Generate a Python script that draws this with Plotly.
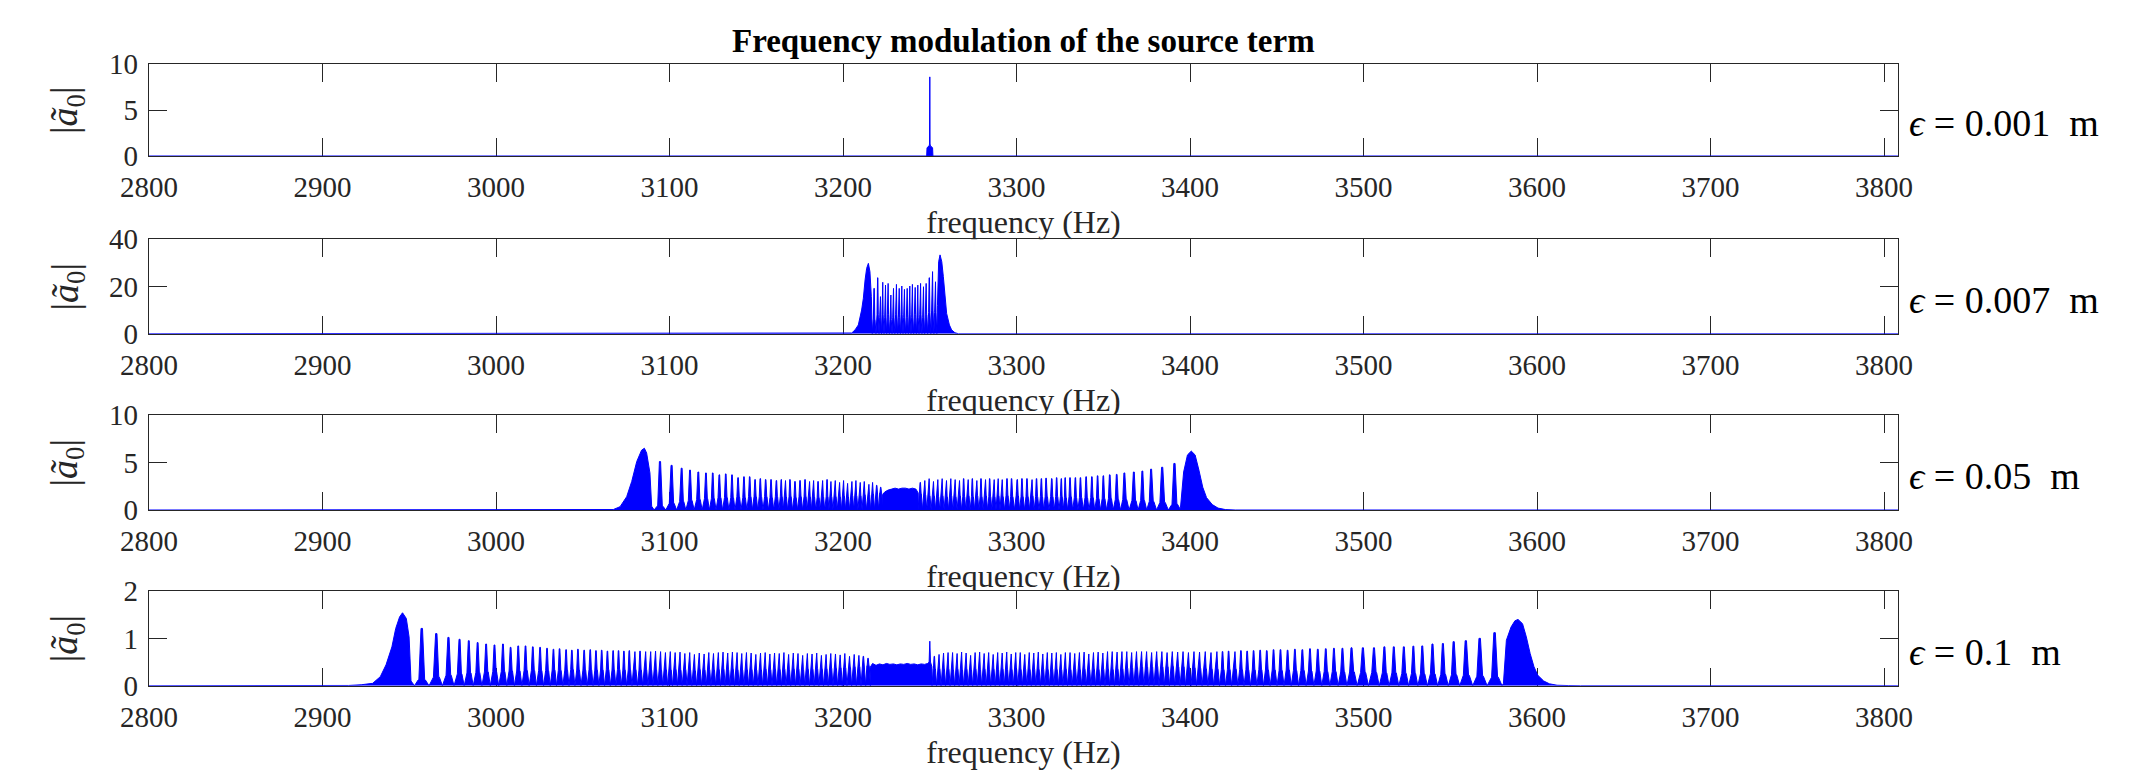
import plotly.graph_objects as go

# ---------------- data ----------------
freq_ticks = [2800, 2900, 3000, 3100, 3200, 3300, 3400, 3500, 3600, 3700, 3800]
freq_range = [2800, 3808]
y_ranges = [[0, 10], [0, 40], [0, 10], [0, 2]]
y_ticks = [[0, 5, 10], [0, 20, 40], [0, 5, 10], [0, 1, 2]]
eps_labels = ["0.001", "0.007", "0.05", "0.1"]

# eps = 0.001 m : single line at 3250 Hz
f1 = [2800, 3248.2, 3248.4, 3249.0, 3249.6, 3249.85, 3250.0, 3250.15, 3250.4, 3251.0, 3251.6, 3251.8, 3808]
a1 = [0, 0, 0.9, 1.0, 1.1, 1.3, 8.6, 1.3, 1.1, 1.0, 0.9, 0, 0]

# eps = 0.007 m
f2_hl = [2800, 3203.0, 3205.0, 3206.9, 3208.8, 3210.7, 3211.7, 3212.7, 3213.6, 3214.6, 3215.5, 3216.3, 3216.9]
a2_hl = [0, 0, 0.3, 1.6, 3.7, 10, 15, 22.8, 27.7, 29.8, 26.3, 15.7, 4.4]
f2_s = [3217.9, 3220.0, 3221.5, 3222.8, 3224.4, 3225.9, 3227.5, 3229.0, 3230.7, 3232.3, 3233.8, 3235.3,
        3236.9, 3238.4, 3239.9, 3241.5, 3243.0, 3244.6, 3246.3, 3247.8, 3249.7, 3251.5, 3253.2]
p2_s = [19.2, 23.7, 15.7, 21.8, 20.6, 21.3, 16.4, 19.2, 20.9, 19.2, 20.2, 18.8,
        19.2, 20.2, 20.9, 19.6, 20.6, 21.3, 19.9, 21.3, 23.7, 26.3, 22.0]
b2_s = [6, 8, 7, 8, 7, 8, 6, 7, 8, 7, 8, 7, 7, 8, 7, 8, 7, 8, 7, 8, 9, 10, 9]
f2_hr = [3254.4, 3255.1, 3255.9, 3256.9, 3257.8, 3258.8, 3259.7, 3261.3, 3262.6, 3264.5, 3266.5, 3808]
a2_hr = [12, 30.5, 33.4, 30.5, 24.2, 15.7, 8.6, 3.7, 1.6, 0.4, 0, 0]

# eps = 0.05 m
f3_hl = [2800, 3055, 3063.8, 3067.6, 3071.5, 3075.3, 3078.2, 3081.1, 3083.9, 3085.5, 3086.8, 3088.7, 3089.7]
a3_hl = [0, 0, 0.01, 0.05, 0.35, 1.4, 3.0, 5.1, 6.3, 6.5, 6.0, 3.9, 0.4]
f3_sl = [3094.5, 3101.2, 3107.0, 3111.8, 3116.6, 3121.0, 3124.9, 3128.7, 3132.4, 3136.0,
         3139.5, 3142.9, 3146.2, 3149.3, 3152.3, 3155.4, 3158.5, 3161.6, 3164.4, 3166.7,
         3169.4, 3172.3, 3175.2, 3178.1, 3180.6, 3182.9, 3185.6, 3188.1, 3190.8, 3192.9,
         3195.4, 3197.9, 3200.2, 3202.5, 3205.0, 3207.3, 3209.8, 3212.1, 3214.8, 3216.9,
         3219.4, 3221.7]
p3_sl = [5.1, 4.7, 4.4, 4.2, 4.0, 3.9, 3.9, 3.7, 3.8, 3.7,
         3.4, 3.5, 3.5, 3.2, 3.3, 3.2, 3.2, 3.1, 3.2, 3.1,
         3.2, 3.0, 3.1, 3.2, 3.0, 3.1, 3.0, 3.1, 3.2, 3.0,
         3.1, 2.9, 3.1, 2.8, 3.0, 3.1, 2.9, 3.0, 2.7, 2.9,
         2.6, 2.4]
b3_sl = [0.4, 0.7, 0.9, 1.0, 1.1, 1.2, 1.2, 1.3, 1.3, 1.3,
         1.4, 1.3, 1.4, 1.4, 1.4, 1.4, 1.3, 1.4, 1.4, 1.4,
         1.4, 1.3, 1.4, 1.4, 1.4, 1.4, 1.3, 1.4, 1.4, 1.4,
         1.4, 1.4, 1.5, 1.4, 1.5, 1.5, 1.5, 1.6, 1.6, 1.7,
         1.8, 1.8]
f3_bd = [3222.8, 3224.0, 3226.0, 3228.0, 3230.0, 3232.0, 3234.0, 3236.0, 3238.0, 3240.0, 3242.0, 3243.3]
a3_bd = [1.6, 1.9, 2.1, 2.2, 2.3, 2.2, 2.3, 2.3, 2.2, 2.3, 2.2, 1.8]
f3_sr = [3244.5, 3247.0, 3249.5, 3252.0, 3254.5, 3257.0, 3259.5, 3262.0, 3264.5, 3267.0,
         3269.5, 3272.0, 3274.5, 3277.0, 3279.5, 3282.0, 3284.5, 3287.0, 3289.3, 3291.6,
         3294.5, 3297.1, 3300.4, 3303.1, 3306.0, 3308.8, 3311.5, 3314.3, 3317.0, 3320.3,
         3323.1, 3325.8, 3328.0, 3330.8, 3333.9, 3336.8, 3340.1, 3343.4, 3346.7, 3350.0,
         3353.7, 3357.7, 3362.1, 3367.6, 3372.5, 3377.5, 3383.9, 3391.0]
p3_sr = [2.9, 3.1, 3.3, 3.0, 3.2, 3.3, 3.1, 3.3, 3.2, 3.1,
         3.3, 3.2, 3.3, 3.1, 3.3, 3.2, 3.3, 3.2, 3.3, 3.2,
         3.3, 3.3, 3.2, 3.3, 3.3, 3.2, 3.3, 3.3, 3.35, 3.3,
         3.4, 3.3, 3.4, 3.4, 3.4, 3.4, 3.5, 3.5, 3.6, 3.6,
         3.7, 3.75, 3.9, 4.0, 4.1, 4.3, 4.5, 4.9]
b3_sr = [1.7, 1.6, 1.5, 1.5, 1.4, 1.5, 1.4, 1.5, 1.4, 1.5,
         1.4, 1.5, 1.4, 1.5, 1.4, 1.5, 1.4, 1.4, 1.5, 1.4,
         1.5, 1.4, 1.5, 1.4, 1.4, 1.5, 1.4, 1.4, 1.4, 1.4,
         1.4, 1.4, 1.3, 1.4, 1.3, 1.3, 1.3, 1.3, 1.2, 1.2,
         1.2, 1.1, 1.1, 1.0, 1.0, 0.9, 0.8, 0.6]
f3_hr = [3394.5, 3396.3, 3398.5, 3400.7, 3402.9, 3405.1, 3407.3, 3409.5, 3412.8, 3416.1, 3420.5, 3426, 3808]
a3_hr = [0.3, 4.0, 5.8, 6.2, 5.8, 4.2, 2.4, 1.3, 0.57, 0.2, 0.04, 0, 0]

# eps = 0.1 m
f4_hl = [2800, 2905, 2915, 2922.3, 2928.9, 2933.3, 2936.6, 2940.0, 2942.2, 2944.4, 2946.1, 2948.3, 2949.9, 2951.0]
a4_hl = [0, 0, 0.005, 0.02, 0.05, 0.19, 0.44, 0.82, 1.21, 1.45, 1.54, 1.42, 1.03, 0.1]
f4_sl = [2957.2, 2965.6, 2972.6, 2979.0, 2984.3, 2989.4, 2994.3, 2999.1, 3004.0, 3008.4,
         3012.8, 3017.0, 3021.2, 3025.4, 3029.4, 3033.1, 3036.6, 3040.4, 3043.7, 3047.2,
         3050.8, 3054.3, 3057.6, 3060.9, 3064.2, 3067.5, 3070.6, 3073.7, 3076.8, 3079.9,
         3083.0, 3086.1, 3089.0, 3091.8, 3094.7, 3097.5, 3100.3, 3103.1, 3105.9, 3108.7,
         3111.5, 3114.2, 3117.0, 3119.8, 3122.5, 3125.2, 3128.0, 3130.7, 3133.4, 3136.1,
         3138.8, 3141.5, 3144.2, 3146.9, 3149.6, 3152.3, 3155.0, 3157.7, 3160.4, 3163.1,
         3165.8, 3168.5, 3171.2, 3173.9, 3176.6, 3179.3, 3182.0, 3184.7, 3187.4, 3190.1,
         3192.8, 3195.5, 3198.2, 3200.9, 3203.6, 3206.3, 3209.0, 3211.7, 3214.4]
p4_sl = [1.21, 1.10, 1.02, 0.98, 0.95, 0.91, 0.88, 0.86, 0.88, 0.81,
         0.84, 0.84, 0.82, 0.81, 0.79, 0.77, 0.78, 0.76, 0.75, 0.77,
         0.75, 0.76, 0.74, 0.75, 0.73, 0.74, 0.74, 0.73, 0.74, 0.72,
         0.73, 0.72, 0.72, 0.73, 0.72, 0.70, 0.72, 0.70, 0.71, 0.68,
         0.70, 0.66, 0.69, 0.67, 0.70, 0.68, 0.70, 0.71, 0.69, 0.71,
         0.70, 0.68, 0.70, 0.69, 0.66, 0.69, 0.70, 0.67, 0.69, 0.68,
         0.70, 0.66, 0.69, 0.68, 0.64, 0.68, 0.67, 0.69, 0.64, 0.66,
         0.68, 0.67, 0.65, 0.68, 0.62, 0.66, 0.64, 0.62, 0.58]
b4_sl = [0.12, 0.18, 0.22, 0.25, 0.27, 0.28, 0.29, 0.30, 0.30, 0.31,
         0.31, 0.32, 0.32, 0.32, 0.32, 0.33, 0.32, 0.33, 0.34, 0.33,
         0.33, 0.34, 0.33, 0.33, 0.34, 0.33, 0.34, 0.33, 0.33, 0.34,
         0.33, 0.34, 0.33, 0.34, 0.33, 0.34, 0.33, 0.34, 0.33, 0.34,
         0.33, 0.32, 0.34, 0.33, 0.34, 0.33, 0.34, 0.35, 0.34, 0.35,
         0.34, 0.33, 0.34, 0.34, 0.33, 0.34, 0.35, 0.34, 0.35, 0.34,
         0.35, 0.34, 0.35, 0.35, 0.34, 0.35, 0.35, 0.36, 0.35, 0.36,
         0.37, 0.37, 0.38, 0.38, 0.39, 0.40, 0.40, 0.41, 0.42]
f4_bd = [3215.5, 3217.0, 3219.0, 3221.0, 3223.0, 3225.0, 3227.0, 3229.0, 3231.0, 3233.0, 3235.0,
         3237.0, 3239.0, 3241.0, 3243.0, 3245.0, 3247.0, 3248.8, 3249.6, 3250.0, 3250.4, 3251.2]
a4_bd = [0.38, 0.47, 0.43, 0.46, 0.44, 0.47, 0.45, 0.46, 0.44, 0.46, 0.45,
         0.47, 0.45, 0.46, 0.44, 0.46, 0.45, 0.47, 0.50, 0.94, 0.50, 0.40]
f4_sr = [3252.6, 3255.2, 3257.8, 3260.4, 3263.0, 3265.6, 3268.2, 3270.8, 3273.4, 3276.0,
         3278.6, 3281.2, 3283.8, 3286.4, 3289.0, 3291.6, 3294.2, 3296.8, 3299.4, 3302.0,
         3304.6, 3307.2, 3309.8, 3312.4, 3315.0, 3317.6, 3320.2, 3322.8, 3325.4, 3328.0,
         3330.7, 3333.4, 3336.1, 3338.8, 3341.5, 3344.2, 3346.9, 3349.6, 3352.3, 3355.0,
         3357.8, 3360.6, 3363.4, 3366.2, 3369.0, 3371.9, 3374.8, 3377.7, 3380.6, 3383.6,
         3386.6, 3389.6, 3392.7, 3395.8, 3398.9, 3402.1, 3405.3, 3408.6, 3411.9, 3415.3,
         3418.7, 3422.2, 3425.7, 3429.3, 3432.9, 3436.6, 3440.4, 3444.2, 3448.1, 3452.1,
         3456.2, 3460.4, 3464.7, 3469.1, 3473.6, 3478.2, 3482.9, 3487.8, 3493.0, 3499.6,
         3506.0, 3512.0, 3517.4, 3523.2, 3528.7, 3533.8, 3539.7, 3545.7, 3551.9, 3558.9,
         3566.9, 3575.5]
p4_sr = [0.62, 0.66, 0.69, 0.70, 0.70, 0.68, 0.71, 0.69, 0.64, 0.70,
         0.71, 0.68, 0.70, 0.66, 0.70, 0.69, 0.71, 0.67, 0.70, 0.70,
         0.66, 0.70, 0.69, 0.71, 0.67, 0.70, 0.69, 0.70, 0.66, 0.70,
         0.70, 0.68, 0.70, 0.71, 0.67, 0.70, 0.71, 0.69, 0.72, 0.72,
         0.71, 0.72, 0.72, 0.70, 0.72, 0.72, 0.72, 0.70, 0.72, 0.72,
         0.70, 0.72, 0.71, 0.72, 0.70, 0.72, 0.71, 0.72, 0.70, 0.72,
         0.72, 0.73, 0.72, 0.74, 0.73, 0.74, 0.75, 0.74, 0.76, 0.76,
         0.75, 0.77, 0.76, 0.78, 0.77, 0.78, 0.79, 0.79, 0.80, 0.80,
         0.80, 0.82, 0.82, 0.82, 0.835, 0.84, 0.88, 0.89, 0.93, 0.95,
         1.00, 1.12]
b4_sr = [0.36, 0.36, 0.35, 0.35, 0.34, 0.35, 0.34, 0.35, 0.34, 0.35,
         0.34, 0.35, 0.34, 0.35, 0.34, 0.35, 0.34, 0.34, 0.35, 0.34,
         0.35, 0.34, 0.35, 0.34, 0.35, 0.34, 0.35, 0.34, 0.34, 0.35,
         0.34, 0.35, 0.34, 0.35, 0.34, 0.35, 0.34, 0.35, 0.35, 0.34,
         0.35, 0.36, 0.37, 0.38, 0.39, 0.40, 0.40, 0.40, 0.41, 0.40,
         0.40, 0.41, 0.40, 0.40, 0.39, 0.38, 0.37, 0.36, 0.35, 0.35,
         0.34, 0.34, 0.35, 0.34, 0.34, 0.33, 0.34, 0.33, 0.33, 0.32,
         0.33, 0.32, 0.32, 0.31, 0.31, 0.30, 0.30, 0.29, 0.29, 0.28,
         0.28, 0.27, 0.27, 0.26, 0.26, 0.25, 0.25, 0.24, 0.23, 0.22,
         0.20, 0.18]
f4_hr = [3580.6, 3582.3, 3585.0, 3587.2, 3589.0, 3591.6, 3593.8, 3596.0, 3598.2, 3600.4,
         3603.8, 3607.1, 3611.5, 3618, 3625, 3808]
a4_hr = [0.05, 0.96, 1.24, 1.37, 1.40, 1.31, 1.03, 0.68, 0.40, 0.22,
         0.10, 0.04, 0.01, 0.003, 0, 0]

# ---------------- helpers ----------------
for a, b in [(f2_s, p2_s), (f2_s, b2_s), (f3_sl, p3_sl), (f3_sl, b3_sl), (f3_sr, p3_sr),
             (f3_sr, b3_sr), (f4_sl, p4_sl), (f4_sl, b4_sl), (f4_sr, p4_sr), (f4_sr, b4_sr),
             (f4_hl, a4_hl), (f4_hr, a4_hr), (f4_bd, a4_bd), (f3_hl, a3_hl), (f3_hr, a3_hr),
             (f3_bd, a3_bd), (f2_hl, a2_hl), (f2_hr, a2_hr), (f1, a1)]:
    assert len(a) == len(b), (len(a), len(b))


def spike_train(f, p, b):
    """Turn read peak positions/heights/floor levels into a spiky outline."""
    xs, ys = [], []
    n = len(f)
    for i in range(n):
        gl = f[i] - f[i - 1] if i > 0 else f[1] - f[0]
        gr = f[i + 1] - f[i] if i < n - 1 else gl
        if i == 0:
            xs.append(f[i] - 0.5 * gl)
            ys.append(0.0)
        xs += [f[i] - 0.25 * gl, f[i] - 0.2 * gl, f[i] - 0.05 * gl, f[i] + 0.05 * gr,
               f[i] + 0.2 * gr, f[i] + 0.25 * gr, f[i] + 0.5 * gr]
        ys += [b[i], b[i], p[i], p[i], b[i], b[i], 0.0]
    return xs, ys


def join(*parts):
    xs, ys = [], []
    for px_, py_ in parts:
        xs += list(px_)
        ys += list(py_)
    return xs, ys


series = [
    join((f1, a1)),
    join((f2_hl, a2_hl), spike_train(f2_s, p2_s, b2_s), (f2_hr, a2_hr)),
    join((f3_hl, a3_hl), spike_train(f3_sl, p3_sl, b3_sl), (f3_bd, a3_bd),
         spike_train(f3_sr, p3_sr, b3_sr), (f3_hr, a3_hr)),
    join((f4_hl, a4_hl), spike_train(f4_sl, p4_sl, b4_sl), (f4_bd, a4_bd),
         spike_train(f4_sr, p4_sr, b4_sr), (f4_hr, a4_hr)),
]

# ---------------- layout ----------------
W, H = 2145, 778
X0, X1 = 149, 1898
panels = [(64, 156), (239.3, 333.7), (415, 510), (591, 685.7)]
INK = "#262626"
FONT = "Liberation Serif"
BLUE = "#0000FF"

fig = go.Figure()
layout = dict(
    width=W, height=H, margin=dict(l=0, r=0, t=0, b=0, pad=0, autoexpand=False),
    paper_bgcolor="white", plot_bgcolor="white", showlegend=False,
    font=dict(family=FONT, color=INK),
)
annotations = []

for k in range(4):
    sfx = "" if k == 0 else str(k + 1)
    top, bot = panels[k]
    xs, ys = series[k]
    fig.add_trace(go.Scatter(
        x=xs, y=ys, mode="lines", line=dict(color=BLUE, width=1.0),
        fill="tozeroy", fillcolor=BLUE, xaxis="x" + sfx, yaxis="y" + sfx,
        cliponaxis=False, hoverinfo="skip"))
    layout["xaxis" + sfx] = dict(
        domain=[X0 / W, X1 / W], anchor="y" + sfx, range=freq_range, automargin=False,
        tickmode="array", tickvals=freq_ticks, ticktext=[str(t) for t in freq_ticks],
        ticks="inside", ticklen=18, tickwidth=1.3, tickcolor=INK,
        showline=True, linecolor=INK, linewidth=1.3, mirror="ticks",
        showgrid=False, zeroline=False, layer="below traces",
        tickfont=dict(family=FONT, size=29, color=INK), ticklabelstandoff=5)
    layout["yaxis" + sfx] = dict(
        domain=[1 - bot / H, 1 - top / H], anchor="x" + sfx, range=y_ranges[k], automargin=False,
        tickmode="array", tickvals=y_ticks[k], ticktext=[str(t) for t in y_ticks[k]],
        ticks="inside", ticklen=18, tickwidth=1.3, tickcolor=INK,
        showline=True, linecolor=INK, linewidth=1.3, mirror="ticks",
        showgrid=False, zeroline=False,
        tickfont=dict(family=FONT, size=29, color=INK), ticklabelstandoff=4)
    # y label
    annotations.append(dict(
        x=67 / W, y=1 - (top + bot) / 2 / H, xref="paper", yref="paper",
        text="|<i>ã</i><sub>0</sub>|", showarrow=False, textangle=-90,
        xanchor="center", yanchor="middle", font=dict(family=FONT, size=38, color=INK)))
    # right label
    annotations.append(dict(
        x=1907 / W, y=1 - (top + 0.64 * (bot - top)) / H, xref="paper", yref="paper",
        text="<i>ϵ</i> = " + eps_labels[k] + "\u2002m", showarrow=False,
        xanchor="left", yanchor="middle", font=dict(family=FONT, size=38, color="black")))
    # x label, clipped by the next panel like in the reference
    lab_sfx = str(k + 5)
    clip_bot = panels[k + 1][0] if k < 3 else H
    lab_y = bot + 69
    layout["xaxis" + lab_sfx] = dict(domain=[X0 / W, X1 / W], anchor="y" + lab_sfx, automargin=False,
                                     range=[0, 1], visible=False, fixedrange=True)
    layout["yaxis" + lab_sfx] = dict(domain=[1 - clip_bot / H, 1 - bot / H], anchor="x" + lab_sfx,
                                     automargin=False, range=[0, 1], visible=False, fixedrange=True)
    fig.add_trace(go.Scatter(
        x=[0.5], y=[(clip_bot - lab_y) / (clip_bot - bot)], mode="text",
        text=["frequency (Hz)"], textposition="middle center", cliponaxis=True,
        textfont=dict(family=FONT, size=32, color=INK),
        xaxis="x" + lab_sfx, yaxis="y" + lab_sfx, hoverinfo="skip"))

annotations.append(dict(
    x=(X0 + X1) / 2 / W, y=1 - 41 / H, xref="paper", yref="paper",
    text="<b>Frequency modulation of the source term</b>", showarrow=False,
    xanchor="center", yanchor="middle", font=dict(family=FONT, size=33, color="black")))
layout["annotations"] = annotations
fig.update_layout(**layout)
fig.write_html("out.html")
